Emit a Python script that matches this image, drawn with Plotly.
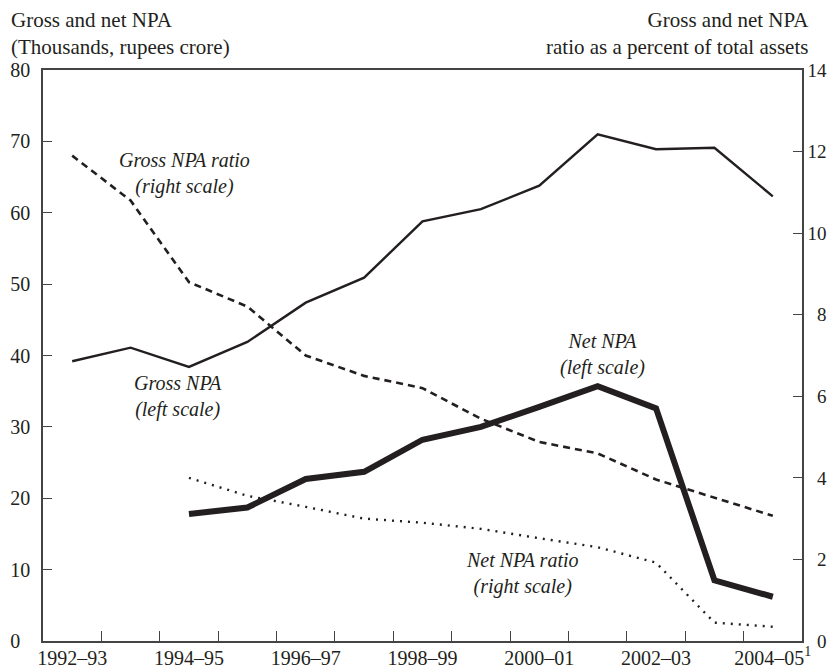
import plotly.graph_objects as go

years = ["1992–93", "1993–94", "1994–95", "1995–96", "1996–97", "1997–98", "1998–99",
         "1999–2000", "2000–01", "2001–02", "2002–03", "2003–04", "2004–05"]
tick_labels = ["1992–93", "1994–95", "1996–97", "1998–99", "2000–01", "2002–03", "2004–05<sup>1</sup>"]

gross_npa = [39.2, 41.1, 38.4, 41.9, 47.4, 50.9, 58.8, 60.5, 63.8, 71.0, 68.9, 69.1, 62.3]
net_npa = [None, None, 17.8, 18.7, 22.7, 23.7, 28.2, 30.0, 32.8, 35.7, 32.6, 8.5, 6.2]
gross_ratio = [11.9, 10.8, 8.8, 8.2, 7.0, 6.5, 6.2, 5.45, 4.88, 4.6, 3.96, 3.51, 3.07]
net_ratio = [None, None, 4.0, 3.56, 3.29, 3.0, 2.9, 2.75, 2.52, 2.3, 1.92, 0.45, 0.35]

left_ticks = [0, 10, 20, 30, 40, 50, 60, 70, 80]
right_ticks = [0, 2, 4, 6, 8, 10, 12, 14]

INK = "#231f20"
AX = "#444444"
FONT = "Liberation Serif"
FIG_SP = "\u2007"

idx = list(range(len(years)))

fig = go.Figure()
fig.add_trace(go.Scatter(x=idx, y=gross_npa, mode="lines", line=dict(color=INK, width=2.4),
                         yaxis="y", hoverinfo="skip"))
fig.add_trace(go.Scatter(x=idx, y=net_npa, mode="lines", line=dict(color=INK, width=6),
                         yaxis="y", hoverinfo="skip"))
fig.add_trace(go.Scatter(x=idx, y=gross_ratio, mode="lines",
                         line=dict(color=INK, width=2.6, dash="7px,5px"),
                         yaxis="y2", hoverinfo="skip"))
fig.add_trace(go.Scatter(x=idx, y=net_ratio, mode="lines",
                         line=dict(color=INK, width=2.4, dash="2px,6px"),
                         yaxis="y2", hoverinfo="skip"))

fig.update_layout(
    width=831, height=669,
    margin=dict(l=43, r=29, t=70, b=28, autoexpand=False),
    paper_bgcolor="white", plot_bgcolor="white",
    showlegend=False,
    font=dict(family=FONT, size=20, color=INK),
    xaxis=dict(
        range=[-0.5, len(years) - 0.5],
        tickmode="array",
        tickvals=[0, 2, 4, 6, 8, 10, 12],
        ticktext=tick_labels,
        ticks="", showgrid=False, zeroline=False, automargin=False,
        showline=True, linecolor=AX, linewidth=1.5, mirror=True,
        tickfont=dict(family=FONT, size=20, color=INK),
        ticklabelstandoff=-2,
        minor=dict(tickmode="array", tickvals=[i + 0.5 for i in range(len(years) - 1)],
                   ticks="inside", ticklen=10, tickwidth=1.3, tickcolor=AX, showgrid=False),
        fixedrange=True,
    ),
    yaxis=dict(
        range=[0, 80],
        tickmode="array", tickvals=left_ticks,
        ticktext=[(str(v) + FIG_SP if v < 10 else str(v)) for v in left_ticks],
        ticks="inside", ticklen=9, tickwidth=1.3, tickcolor=AX,
        showgrid=False, zeroline=False, automargin=False,
        showline=True, linecolor=AX, linewidth=1.5,
        tickfont=dict(family=FONT, size=20, color=INK),
        ticklabelstandoff=7,
        fixedrange=True,
    ),
    yaxis2=dict(
        range=[0, 14], overlaying="y", side="right",
        tickmode="array", tickvals=right_ticks,
        ticktext=[(FIG_SP + str(v) if v < 10 else str(v)) for v in right_ticks],
        ticks="inside", ticklen=9, tickwidth=1.3, tickcolor=AX,
        showgrid=False, zeroline=False, automargin=False,
        showline=True, linecolor=AX, linewidth=1.5,
        tickfont=dict(family=FONT, size=19, color=INK),
        fixedrange=True,
    ),
)

# axis titles
fig.add_annotation(xref="paper", yref="paper", x=-0.0448, y=1.112, xanchor="left", yanchor="top",
                   text="Gross and net NPA<br>(Thousands, rupees crore)", showarrow=False, align="left",
                   font=dict(family=FONT, size=21, color=INK))
fig.add_annotation(xref="paper", yref="paper", x=1.0115, y=1.112, xanchor="right", yanchor="top",
                   text="Gross and net NPA<br>ratio as a percent of total assets", showarrow=False,
                   align="right", font=dict(family=FONT, size=21, color=INK))

# series labels
labels = [
    ("<i>Gross NPA ratio</i><br><i>(right scale)</i>", 1.915, 65.5),
    ("<i>Gross NPA</i><br><i>(left scale)</i>", 1.81, 34.2),
    ("<i>Net NPA</i><br><i>(left scale)</i>", 9.09, 40.1),
    ("<i>Net NPA ratio</i><br><i>(right scale)</i>", 7.72, 9.4),
]
for txt, lx, ly in labels:
    fig.add_annotation(xref="x", yref="y", x=lx, y=ly, text=txt, showarrow=False,
                       xanchor="center", yanchor="middle", align="center",
                       font=dict(family=FONT, size=20, color=INK))

fig.write_html("out.html", config={"displayModeBar": False},
               post_script="document.body.style.margin='0';document.body.style.overflow='hidden';")
